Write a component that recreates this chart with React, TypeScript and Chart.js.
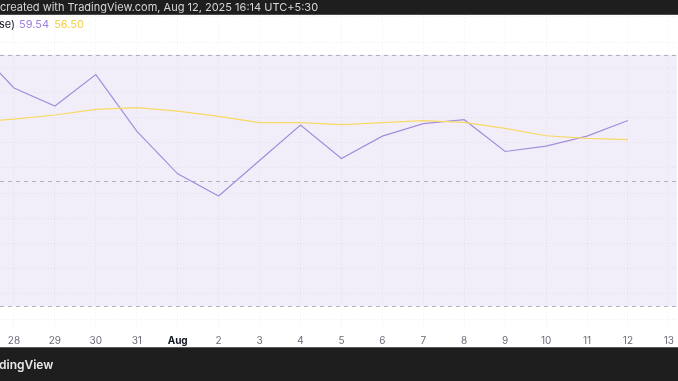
import React, { useEffect, useRef } from "react";
import { Chart, registerables } from "chart.js";

Chart.register(...registerables);

// Day labels: index 0 = "27" (x = -1), "28" at x = 0, ..., "13" at x = 16
const dayLabels = ["27", "28", "29", "30", "31", "Aug", "2", "3", "4", "5", "6", "7", "8", "9", "10", "11", "12", "13"];
const rsiValues = [71.6, 64.7, 61.84, 66.84, 57.86, 51.07, 47.56, 53.19, 58.81, 53.5, 57.06, 59.04, 59.67, 54.62, 55.47, 57.06, 59.54];
const maValues = [59.3, 59.77, 60.41, 61.31, 61.59, 61.04, 60.2, 59.2, 59.2, 58.88, 59.2, 59.51, 59.24, 58.29, 57.12, 56.69, 56.5];
const bandLevels = [70, 50, 30];
const headerText = "created with TradingView.com, Aug 12, 2025 16:14 UTC+5:30";
const legendPrefix = "se)";
const legendRsi = "59.54";
const legendMa = "56.50";
const footerText = "dingView";

const RSI_COLOR = "#a58ddd";
const MA_COLOR = "#f8d966";
const RSI_TEXT = "#9a80dc";
const MA_TEXT = "#f5cf45";
const FONT = "Inter, 'Noto Sans', sans-serif";

const isAug = (c: any) => c && c.tick && Math.round(c.tick.value) === 4;

const overlayPlugin = {
  id: "overlay",
  beforeDatasetsDraw(chart: any) {
    const { ctx, chartArea, scales } = chart;
    const y = scales.y;
    const top = y.getPixelForValue(bandLevels[0]);
    const bot = y.getPixelForValue(bandLevels[2]);
    ctx.save();
    ctx.fillStyle = "rgba(126,87,194,0.1)";
    ctx.fillRect(chartArea.left, top, chartArea.right - chartArea.left, bot - top);
    ctx.strokeStyle = "rgba(120,123,134,0.55)";
    ctx.lineWidth = 1;
    ctx.setLineDash([4, 4]);
    bandLevels.forEach((lv) => {
      const py = Math.round(y.getPixelForValue(lv)) + 0.5;
      ctx.beginPath();
      ctx.moveTo(chartArea.left, py);
      ctx.lineTo(chartArea.right, py);
      ctx.stroke();
    });
    ctx.restore();
  },
  afterDraw(chart: any) {
    const { ctx, width, height } = chart;
    ctx.save();
    // header
    ctx.fillStyle = "#1e1e1e";
    ctx.fillRect(0, 0, width, 14);
    ctx.fillStyle = "#4a4a4a";
    ctx.fillRect(0, 14, width, 1);
    ctx.fillStyle = "#d6d6d6";
    ctx.font = `11px ${FONT}`;
    ctx.textBaseline = "middle";
    ctx.textAlign = "left";
    ctx.fillText(headerText, 0, 7.5);
    // legend
    ctx.font = `11px ${FONT}`;
    ctx.fillStyle = "#131722";
    ctx.fillText(legendPrefix, -1, 24.5);
    let x = -1 + ctx.measureText(legendPrefix).width + 4;
    ctx.fillStyle = RSI_TEXT;
    ctx.fillText(legendRsi, x, 24.5);
    x += ctx.measureText(legendRsi).width + 5;
    ctx.fillStyle = MA_TEXT;
    ctx.fillText(legendMa, x, 24.5);
    // footer
    ctx.fillStyle = "#1e1e1e";
    ctx.fillRect(0, 347, width, height - 347);
    ctx.fillStyle = "#5a5a5a";
    ctx.fillRect(0, 347, width, 1);
    ctx.fillStyle = "#e8e8e8";
    ctx.font = `600 12px ${FONT}`;
    ctx.fillText(footerText, -1, 365);
    ctx.restore();
  },
};

export default function App() {
  const ref = useRef<HTMLCanvasElement | null>(null);
  useEffect(() => {
    document.body.style.margin = "0";
    const canvas = ref.current!;
    const toPts = (arr: number[]) => arr.map((v, i) => ({ x: i - 1, y: v }));
    const chart = new Chart(canvas, {
      type: "line",
      data: {
        datasets: [
          {
            data: toPts(maValues),
            borderColor: MA_COLOR,
            borderWidth: 1.2,
            pointRadius: 0,
            tension: 0,
          },
          {
            data: toPts(rsiValues),
            borderColor: RSI_COLOR,
            borderWidth: 1.2,
            pointRadius: 0,
            tension: 0,
          },
        ],
      },
      options: {
        animation: false,
        responsive: false,
        devicePixelRatio: 1,
        layout: { padding: { top: 15, bottom: 30, left: 0, right: 0 } },
        plugins: { legend: { display: false }, tooltip: { enabled: false } },
        scales: {
          x: {
            type: "linear",
            min: -0.341,
            max: 16.195,
            grid: { color: "rgba(42,46,57,0.07)", drawTicks: false },
            border: { display: false, dash: [1, 2] },
            ticks: {
              stepSize: 1,
              includeBounds: false,
              autoSkip: false,
              maxRotation: 0,
              padding: 4,
              callback: (v: any) => dayLabels[Math.round(v) + 1] ?? "",
              color: (c: any) => (isAug(c) ? "#131722" : "#6a6d78"),
              font: (c: any) =>
                isAug(c)
                  ? { size: 10, weight: "bold", family: FONT }
                  : { size: 10, family: FONT },
            },
          },
          y: {
            type: "linear",
            min: 26.1,
            max: 76.3,
            display: true,
            grid: { color: "rgba(42,46,57,0.07)", drawTicks: false },
            border: { display: false, dash: [1, 2] },
            ticks: { display: false, stepSize: 4, includeBounds: false },
          },
        },
      },
      plugins: [overlayPlugin],
    });
    return () => chart.destroy();
  }, []);
  return <canvas ref={ref} width={678} height={381} style={{ display: "block", width: 678, height: 381 }} />;
}
